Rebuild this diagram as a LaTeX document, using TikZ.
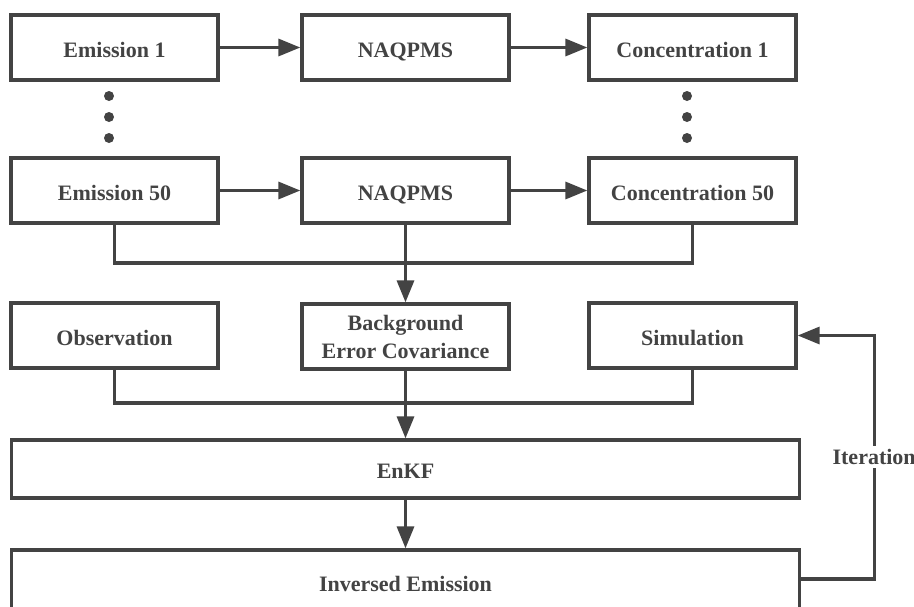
\documentclass[tikz,border=0pt]{standalone}
\usepackage{fontspec}
\setmainfont{Liberation Serif}
\usepackage{tikz}
\usetikzlibrary{arrows.meta,positioning}
\definecolor{ink}{HTML}{434343}

\begin{document}
\begin{tikzpicture}[%
    x=1pt, y=-1pt,
    >={Triangle[length=22pt,width=17pt]},
    line width=3.3pt,
    draw=ink,
    every node/.style={text=ink, font=\fontsize{22}{28}\selectfont\bfseries},
    box/.style={draw=ink, line width=3.3pt, minimum width=207pt, minimum height=65pt, align=center, text height=19pt, text depth=0pt},
    wide/.style={box, minimum width=788pt}
    ]
    \useasboundingbox (0,0) rectangle (914,606);
    \clip (0,0) rectangle (914,606);

    \node[box] (e1)  at (114.5,47.5)  {Emission 1};
    \node[box] (n1)  at (405.5,47.5)  {NAQPMS};
    \node[box] (c1)  at (692.5,47.5)  {Concentration 1};
    \node[box] (e50) at (114.5,190.5) {Emission 50};
    \node[box] (n50) at (405.5,190.5) {NAQPMS};
    \node[box] (c50) at (692.5,190.5) {Concentration 50};
    \node[box] (obs) at (114.5,335.5) {Observation};
    \node[box, text height={}, text depth={}] (bec) at (405.5,336.5) {Background\\Error Covariance};
    \node[box] (sim) at (692.5,335.5) {Simulation};
    \node[wide, minimum height=58pt] (enkf) at (405.5,469) {EnKF};
    \node[wide, minimum height=64pt] (inv)  at (405.5,582) {Inversed Emission};

    \foreach \y in {96,117,138} {
        \fill[ink] (109,\y) circle (5);
        \fill[ink] (687,\y) circle (5);
    }

    \draw[->,ink] (e1) -- (n1);
    \draw[->,ink] (n1) -- (c1);
    \draw[->,ink] (e50) -- (n50);
    \draw[->,ink] (n50) -- (c50);

    \draw[ink] (e50.south) |- (c50.south |- 0,263) -- (c50.south);
    \draw[->,ink] (n50.south) -- (bec.north);
    \draw[ink] (obs.south) |- (sim.south |- 0,403) -- (sim.south);
    \draw[->,ink] (bec.south) -- (enkf.north);
    \draw[->,ink] (enkf.south) -- (inv.north);

    \draw[->,ink] ([yshift=3pt]inv.east) -- ++(73,0) |- node[pos=0.25, fill=white, inner xsep=1pt] {Iteration} (sim.east);
\end{tikzpicture}
\end{document}
